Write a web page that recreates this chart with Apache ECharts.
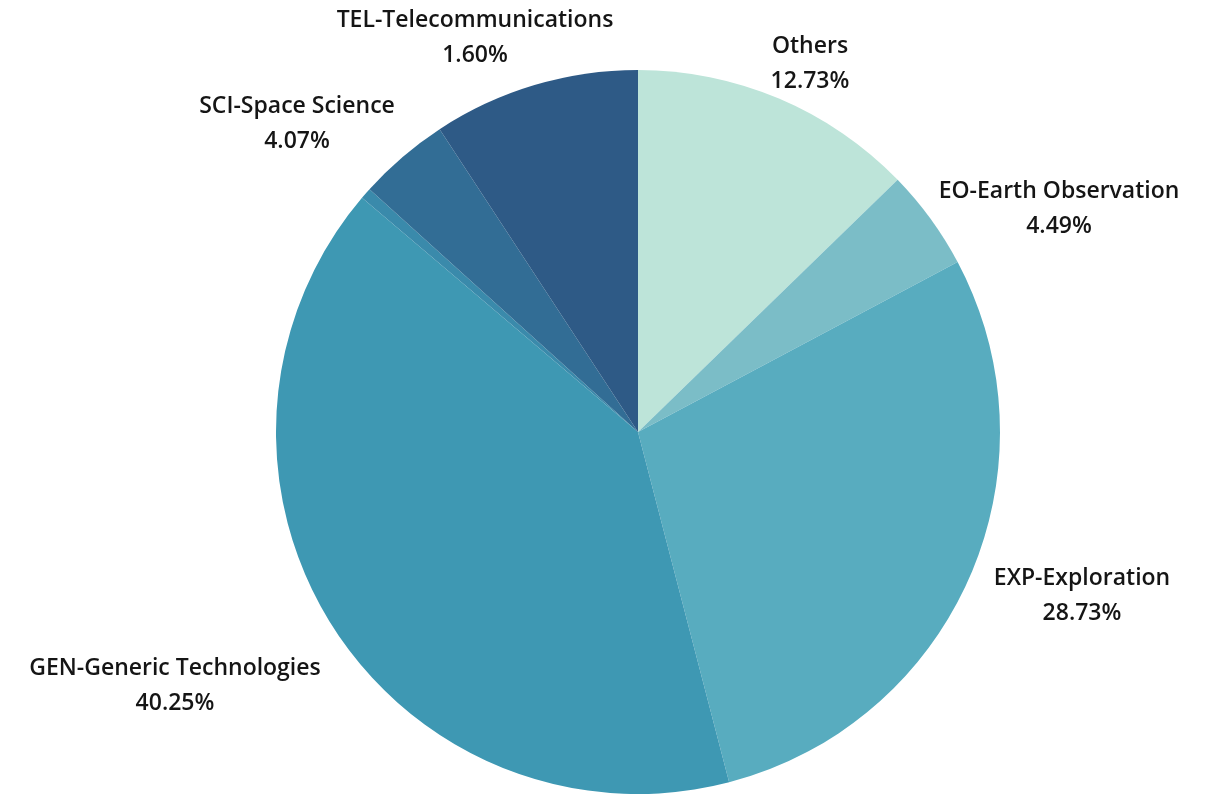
<!DOCTYPE html>
<html>
<head>
<meta charset="utf-8">
<script src="https://cdn.jsdelivr.net/npm/echarts@6/dist/echarts.min.js"></script>
<style>html,body{margin:0;padding:0;background:#fff;}#c{width:1218px;height:794px;}</style>
</head>
<body>
<div id="c"></div>
<script>
// Slice names (clockwise from 12 o'clock)
const categories = ['Others', 'EO-Earth Observation', 'EXP-Exploration', 'GEN-Generic Technologies', '', 'SCI-Space Science', 'TEL-Telecommunications'];
// Slice shares (angles)
const shares = [12.73, 4.49, 28.73, 40.25, 0.5, 4.07, 9.23];
// Percent texts printed on the labels
const labelPercents = ['12.73%', '4.49%', '28.73%', '40.25%', '', '4.07%', '1.60%'];
const colors = ['#bde4d9', '#7bbdc7', '#58acbf', '#3e98b3', '#3a8aab', '#326d95', '#2e5a86'];
// label anchor points (centre of the two-line label)
const labelPos = [[810, 64], [1059, 209], [1082, 596], [175, 686], null, [297, 124], [475, 38]];

const chart = echarts.init(document.getElementById('c'));
chart.setOption({
  animation: false,
  series: [{
    type: 'pie',
    center: [638, 432],
    radius: 362,
    startAngle: 90,
    clockwise: true,
    avoidLabelOverlap: false,
    itemStyle: { borderWidth: 0 },
    labelLine: { show: false },
    label: {
      show: true,
      position: 'outside',
      fontFamily: 'Open Sans',
      fontWeight: 600,
      fontSize: 23,
      lineHeight: 35,
      color: '#151515',
      align: 'center',
      formatter: p => categories[p.dataIndex] + '\n' + labelPercents[p.dataIndex]
    },
    labelLayout: function (params) {
      const pos = labelPos[params.dataIndex];
      if (!pos) return {};
      return { x: pos[0], y: pos[1], align: 'center', verticalAlign: 'middle' };
    },
    data: categories.map((n, i) => ({
      name: n || 'unlabeled',
      value: shares[i],
      itemStyle: { color: colors[i] },
      label: { show: !!n }
    }))
  }]
});
</script>
</body>
</html>
